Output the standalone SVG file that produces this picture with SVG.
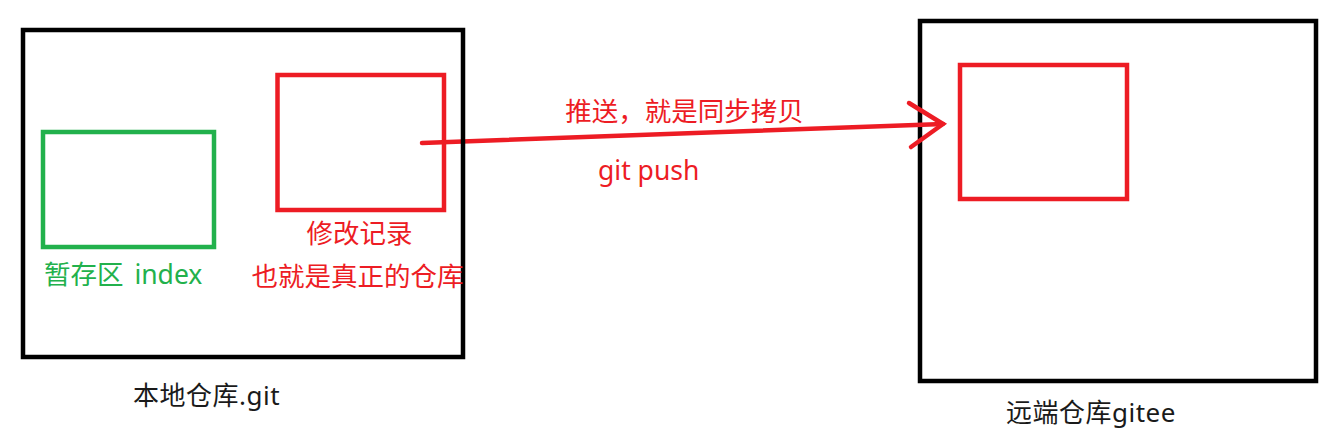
<svg xmlns="http://www.w3.org/2000/svg" width="1340" height="433" viewBox="0 0 1340 433">
<style>
.frame{fill:none;stroke:#000;stroke-width:4.5}
.red{fill:none;stroke:#ed1c24;stroke-width:4.5}
.green{fill:none;stroke:#22b14c;stroke-width:4.5}
.t{font-family:"Noto Sans","Noto Sans CJK SC",sans-serif;font-size:26.5px}
.tr{fill:#ed1c24}
.tg{fill:#22b14c}
.tb{fill:#1a1a1a;font-size:26px;letter-spacing:0.5px}
.arrow{fill:none;stroke:#ed1c24;stroke-width:4.5;stroke-linecap:round;stroke-linejoin:miter}
</style>
<rect width="1340" height="433" fill="#fff"/>
<g id="remote-repo">
<rect class="frame" x="920" y="21" width="396" height="360"/>
<text class="t tb" x="1006" y="422">远端仓库gitee</text>
</g>
<g id="remote-records">
<rect class="red" x="960" y="65" width="167" height="134"/>
</g>
<g id="connectors">
<path class="arrow" d="M422,143 L943,124"/>
<path class="arrow" d="M909,103 L943,124 L911,147"/>
<text class="t tr" x="684.5" y="121" text-anchor="middle">推送，就是同步拷贝</text>
<text class="t tr" x="598" y="180">git push</text>
</g>
<g id="local-repo">
<rect class="frame" x="23" y="30" width="440" height="327"/>
<text class="t tb" x="133" y="405">本地仓库.git</text>
</g>
<g id="staging">
<rect class="green" x="43" y="132" width="171" height="115"/>
<text class="t tg" x="44" y="284" word-spacing="4">暂存区 index</text>
</g>
<g id="local-records">
<rect class="red" x="277.5" y="75" width="166.5" height="135"/>
<text class="t tr" x="359.5" y="243" text-anchor="middle">修改记录</text>
<text class="t tr" x="357.5" y="286" text-anchor="middle">也就是真正的仓库</text>
</g>
</svg>
